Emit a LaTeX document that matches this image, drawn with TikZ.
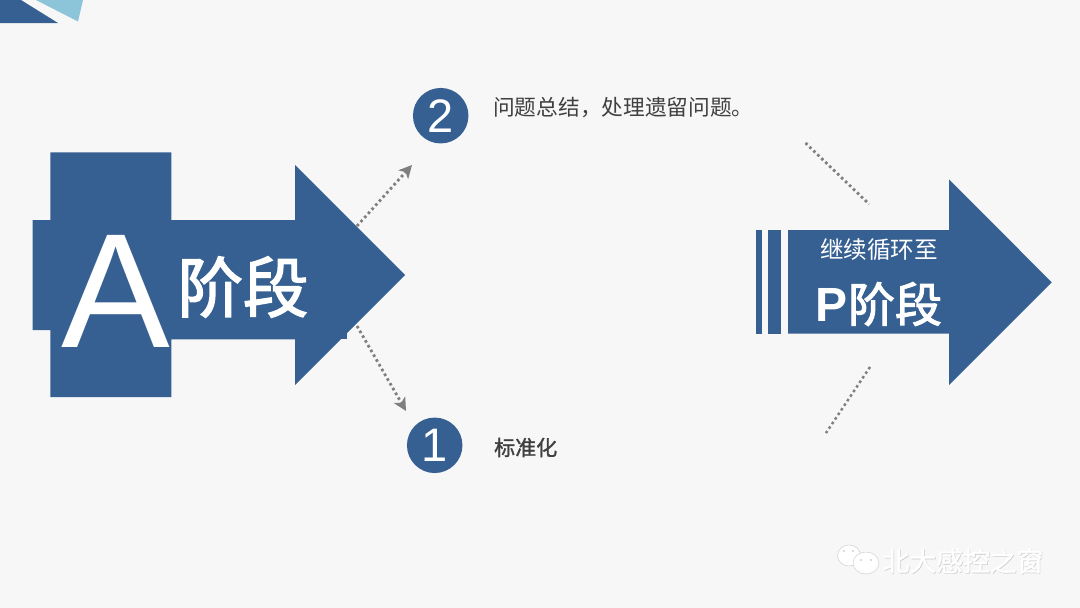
\documentclass[tikz,border=0pt]{standalone}
\usepackage{fontspec}
\setmainfont{Liberation Sans}
\newfontfamily\cjk{Noto Sans CJK SC}
\newfontfamily\cjkm[FakeBold=2.2]{Noto Sans CJK SC}
\newfontfamily\cjks[FakeBold=1.4]{Noto Sans CJK SC}
\usetikzlibrary{arrows.meta}
\definecolor{bgc}{HTML}{F7F7F8}
\definecolor{blu}{HTML}{366092}
\definecolor{lblu}{HTML}{8CC4DA}
\definecolor{gry}{HTML}{7F7F7F}
\definecolor{txt}{HTML}{404040}
\definecolor{wm}{HTML}{CFD0D0}
\tikzset{
  blueshape/.style={fill=blu,draw=none},
  dotline/.style={draw=gry,line width=2.8pt,dash pattern=on 2.6pt off 2.9pt},
  dotarrow/.style={dotline,-{Stealth[length=13pt,width=13pt,inset=3.5pt,color=gry,sep=0pt]}},
  numcircle/.style={circle,fill=blu,minimum size=55.5pt,inner sep=0pt,text=white,font=\fontsize{47}{47}\selectfont},
  wtext/.style={inner sep=0pt,text=white},
  dtext/.style={inner sep=0pt,text=txt,anchor=west,font=\cjk\fontsize{21.7}{22}\selectfont},
  wmark/.style={inner sep=0pt,font=\cjks\fontsize{26.8}{27}\selectfont},
  bubble/.style={fill=white,draw=wm,line width=0.5pt}
}
\begin{document}
\begin{tikzpicture}[x=1pt,y=-1pt]
\useasboundingbox (0,0) rectangle (1080,608);
\fill[bgc] (0,0) rectangle (1080,608);
% corner
\fill[blu] (0,0) -- (21,0) -- (58,23) -- (0,23) -- cycle;
\fill[lblu] (36,0) -- (78,21.5) -- (83,0) -- cycle;
% connectors first (under the arrow)
\coordinate (aup) at (357,226);
\coordinate (adn) at (357,326);
\coordinate (d2) at (412,165);
\coordinate (d1) at (406,411);
\draw[dotarrow] (aup) -- (d2);
\draw[dotarrow] (adn) -- (d1);
% left arrow
\fill[blueshape] (50.3,152.3) -- (171.3,152.3) -- (171.3,220) -- (295,220) -- (295,165) -- (405,275)
  -- (295,385) -- (295,339.3) -- (171.3,339.3) -- (171.3,397) -- (50.3,397) -- (50.3,330) -- (32.7,330) -- (32.7,220) -- (50.3,220) -- cycle;
\fill[blueshape] (335,339.3) rectangle (346.8,330);
\node[wtext,font=\fontsize{163}{163}\selectfont,anchor=base] (bigA) at (115.5,347) {A};
\node[wtext,font=\cjkm\fontsize{65.5}{66}\selectfont] (aduan) at (243,287) {阶段};
% numbered items
\node[numcircle] (n2) at (440.7,115.7) {2};
\node[numcircle] (n1) at (434.7,445.3) {1};
\node[dtext] (t2) at (493,107.5) {问题总结，处理遗留问题。};
\node[dtext,font=\cjks\fontsize{21}{21}\selectfont] (t1) at (494,447.5) {标准化};
% right arrow
\fill[blueshape] (755.7,230) rectangle (762,333.7);
\fill[blueshape] (768.3,230) rectangle (781.3,333.7);
\fill[blueshape] (788,230) -- (949,230) -- (949,179.3) -- (1051.7,282.3) -- (949,385) -- (949,333.7) -- (788,333.7) -- cycle;
\node[wtext,font=\cjk\fontsize{23.6}{24}\selectfont] (cont) at (879,250) {继续循环至};
\node[wtext,font=\cjkm\fontsize{47}{47}\selectfont] (pduan) at (879,304) {{\rmfamily\bfseries\fontsize{48}{47}\selectfont P}阶段};
% dotted guides
\coordinate (g1a) at (805.5,143);
\coordinate (g1b) at (869,204);
\coordinate (g2a) at (870,367);
\coordinate (g2b) at (826,433);
\draw[dotline] (g1a) -- (g1b);
\draw[dotline,line width=2.4pt] (g2a) -- (g2b);
% watermark
\draw[bubble] (849,555.5) ellipse (11.5 and 10.5);
\draw[bubble] (866,563) ellipse (13 and 11);
\fill[wm] (844,551) circle (1.2) (853,551) circle (1.2) (861,560) circle (1.2) (871,560) circle (1.2);
\node[wmark,text=wm] (wms) at (963.7,561.7) {北大感控之窗};
\node[wmark,text=white] (wmt) at (963,561) {北大感控之窗};
\end{tikzpicture}
\end{document}
